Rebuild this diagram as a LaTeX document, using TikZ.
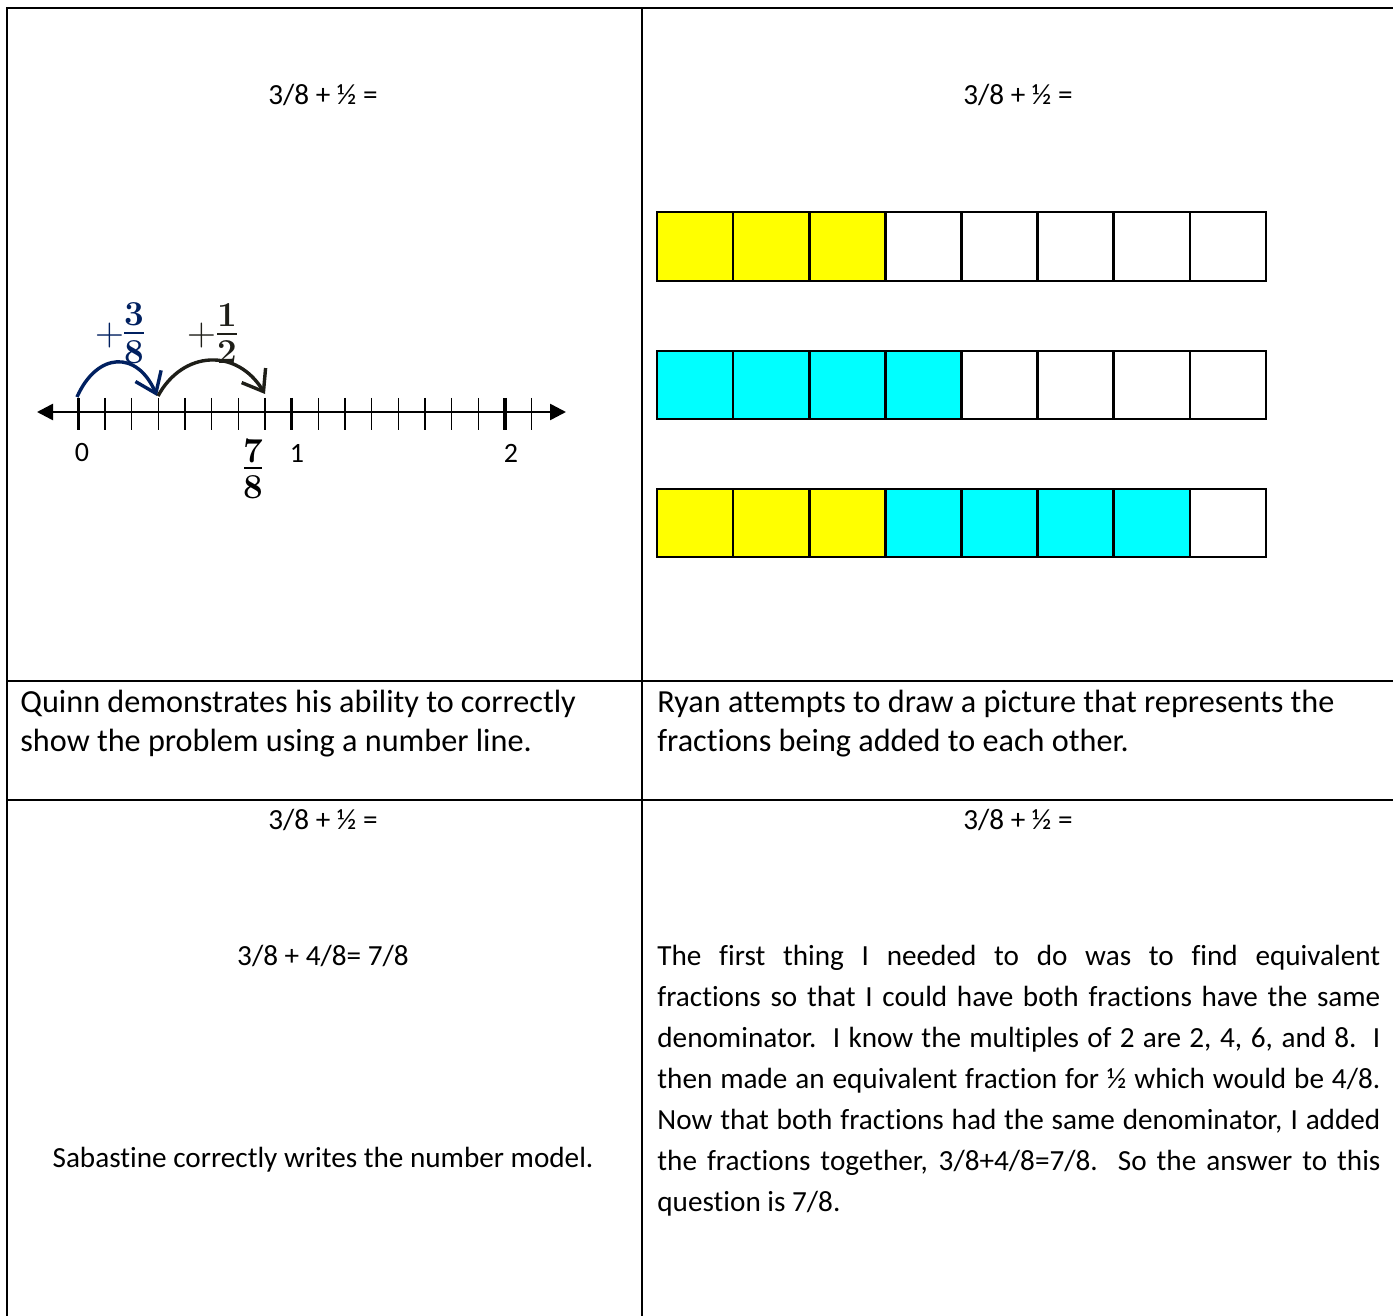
\documentclass[tikz,border=0pt]{standalone}
\usepackage{fontspec}
\setmainfont{Carlito}[Ligatures=NoCommon]
\newfontfamily\lmr{Latin Modern Roman}
\usetikzlibrary{arrows.meta}
\definecolor{navy}{HTML}{002060}
\definecolor{arcblack}{HTML}{1E1E18}
\definecolor{yel}{HTML}{FFFF00}
\definecolor{cyn}{HTML}{00FFFF}
\begin{document}
\begin{tikzpicture}[x=0.5pt,y=-0.5pt,
  txt/.style={inner sep=0, font=\fontsize{14.6}{17.5}\selectfont},
  captxt/.style={inner sep=0, font=\fontsize{16.1}{19}\selectfont},
  lbl/.style={inner sep=0, font=\fontsize{14}{16}\selectfont},
  digit/.style={inner sep=0, anchor=base, font=\lmr\bfseries\fontsize{17.5}{19}\selectfont},
  plus/.style={inner sep=0, font=\lmr\fontsize{20}{21}\selectfont},
  hrule/.style={line width=0.85pt},
  vrule/.style={line width=0.55pt},
  cell/.style={draw, line width=1.3pt},
  jump/.style={line width=1.7pt, -{Straight Barb[length=9.5pt,width=14pt]}},
  tickthin/.style={line width=0.8pt},
  tickthick/.style={line width=1.7pt}]
\useasboundingbox (0,0) rectangle (1393,1316);
\fill[white] (0,0) rectangle (1393,1316);

% table
\draw[hrule] (6,8) -- (1393,8);
\draw[hrule] (6,681) -- (1393,681);
\draw[hrule] (6,800) -- (1393,800);
\draw[vrule] (7,8) -- (7,1316);
\draw[vrule] (642,8) -- (642,1316);

% headings
\node[txt, anchor=base] (h1) at (323,105) {3/8 + ½ =};
\node[txt, anchor=base] (h2) at (1018,105) {3/8 + ½ =};
\node[txt, anchor=base] (h3) at (323,829) {3/8 + ½ =};
\node[txt, anchor=base] (h4) at (1018,829) {3/8 + ½ =};

% number line
\draw[line width=1.3pt, {Triangle[length=8pt,width=8pt]}-{Triangle[length=8pt,width=8pt]}] (37,412) -- (566,412);
\foreach \k in {1,...,7,9,10,...,15,17} {
  \draw[tickthin] ({78.3+26.67*\k},398) -- ({78.3+26.67*\k},430);
}
\foreach \k in {0,8,16} {
  \draw[tickthick] ({78.3+26.67*\k},398) -- ({78.3+26.67*\k},430);
}
\node[lbl] (n0) at (82,453) {0};
\node[lbl] (n1) at (297,453) {1};
\node[lbl] (n2) at (511,453) {2};

% 7/8 label
\node[digit] (s7) at (253,462) {7};
\draw[line width=1.2pt] (244,468) -- (262,468);
\node[digit] (s8) at (253,498) {8};

% jumps
\coordinate (j0) at (77,397);
\coordinate (j1) at (157,396);
\coordinate (j1b) at (158,396);
\coordinate (j2) at (265,394);
\draw[jump, navy] (j0) .. controls (97,352) and (137,350) .. (j1);
\draw[jump, arcblack] (j1b) .. controls (183,350) and (237,348) .. (j2);

% +3/8
\node[plus, text=navy] (p1) at (110,336) {+};
\node[digit, text=navy] (a3) at (134,326) {3};
\draw[navy, line width=1.2pt] (124,333) -- (144,333);
\node[digit, text=navy] (a8) at (134,364) {8};
% +1/2
\node[plus, text=arcblack] (p2) at (202,336) {+};
\node[digit, text=arcblack] (b1) at (227,327) {1};
\draw[arcblack, line width=1.2pt] (217,334) -- (237,334);
\node[digit, text=arcblack] (b2) at (227,364) {2};

% fraction strips
\foreach \i in {0,...,7} {
  \pgfmathsetmacro\xa{657+76.125*\i}
  \pgfmathsetmacro\xb{657+76.125*(\i+1)}
  \ifnum\i<3 \def\ca{yel}\else\def\ca{white}\fi
  \ifnum\i<4 \def\cb{cyn}\else\def\cb{white}\fi
  \ifnum\i<3 \def\cc{yel}\else\ifnum\i<7 \def\cc{cyn}\else\def\cc{white}\fi\fi
  \draw[cell, fill=\ca] (\xa,212) rectangle (\xb,281);
  \draw[cell, fill=\cb] (\xa,351) rectangle (\xb,419);
  \draw[cell, fill=\cc] (\xa,489) rectangle (\xb,557);
}

% captions
\node[captxt, anchor=base west] (q1) at (20,712) {Quinn demonstrates his ability to correctly};
\node[captxt, anchor=base west] (q2) at (20,751) {show the problem using a number line.};
\node[captxt, anchor=base west] (r1) at (657,712) {Ryan attempts to draw a picture that represents the};
\node[captxt, anchor=base west] (r2) at (657,751) {fractions being added to each other.};

% bottom left
\node[txt, anchor=base] (m1) at (323,965) {3/8 + 4/8= 7/8};
\node[txt, anchor=base] (m2) at (323,1167) {Sabastine correctly writes the number model.};

% bottom right paragraph
\node[txt, anchor=base west] (l1) at (657,965) {\makebox[361.5pt][s]{The first thing I needed to do was to find equivalent}};
\node[txt, anchor=base west] (l2) at (657,1006) {\makebox[361.5pt][s]{fractions so that I could have both fractions have the same}};
\node[txt, anchor=base west] (l3) at (657,1047) {\makebox[361.5pt][s]{denominator.\ \ I know the multiples of 2 are 2, 4, 6, and 8.\ \ I}};
\node[txt, anchor=base west] (l4) at (657,1088) {\makebox[361.5pt][s]{then made an equivalent fraction for ½ which would be 4/8.}};
\node[txt, anchor=base west] (l5) at (657,1129) {\makebox[361.5pt][s]{Now that both fractions had the same denominator, I added}};
\node[txt, anchor=base west] (l6) at (657,1170) {\makebox[361.5pt][s]{the fractions together, 3/8+4/8=7/8.\ \ So the answer to this}};
\node[txt, anchor=base west] (l7) at (657,1211) {question is 7/8.};
\end{tikzpicture}
\end{document}
